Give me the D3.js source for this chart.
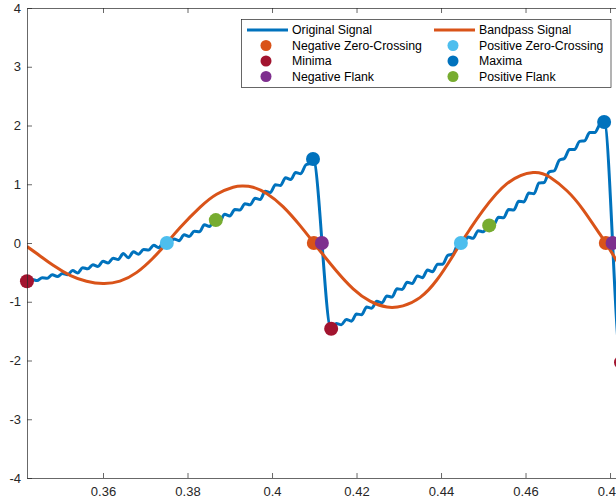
<!DOCTYPE html>
<html>
<head>
<meta charset="utf-8">
<script src="https://cdn.jsdelivr.net/npm/d3@7"></script>
<style>
  body { margin: 0; background: #fff; }
  svg { display: block; font-family: "Liberation Sans", Arial, Helvetica, sans-serif; }
</style>
</head>
<body>
<script>
// ---- data ----
var origX = [0.3420, 0.3432, 0.3444, 0.3456, 0.3468, 0.3480, 0.3492, 0.3504, 0.3516, 0.3528,
  0.3540, 0.3552, 0.3564, 0.3576, 0.3588, 0.3600, 0.3612, 0.3624, 0.3636, 0.3648,
  0.3660, 0.3672, 0.3684, 0.3696, 0.3708, 0.3720, 0.3732, 0.3744, 0.3756, 0.3768,
  0.3780, 0.3792, 0.3804, 0.3816, 0.3828, 0.3840, 0.3852, 0.3864, 0.3876, 0.3888,
  0.3900, 0.3912, 0.3924, 0.3936, 0.3948, 0.3960, 0.3972, 0.3984, 0.3996, 0.4008,
  0.4020, 0.4032, 0.4044, 0.4056, 0.4068, 0.4080, 0.4092, 0.4097,
  0.4140, 0.4152, 0.4164, 0.4176, 0.4188, 0.4200, 0.4212, 0.4224, 0.4236, 0.4248,
  0.4260, 0.4272, 0.4284, 0.4296, 0.4308, 0.4320, 0.4332, 0.4344, 0.4356, 0.4368,
  0.4380, 0.4392, 0.4404, 0.4416, 0.4428, 0.4440, 0.4452, 0.4464, 0.4476, 0.4488,
  0.4500, 0.4512, 0.4524, 0.4536, 0.4548, 0.4560, 0.4572, 0.4584, 0.4596, 0.4608,
  0.4620, 0.4632, 0.4644, 0.4656, 0.4668, 0.4680, 0.4692, 0.4704, 0.4716, 0.4728,
  0.4740, 0.4752, 0.4764, 0.4776, 0.4786,
  0.4826, 0.4838, 0.4850];
var origY = [-0.65, -0.62, -0.64, -0.59, -0.60, -0.54, -0.57, -0.52, -0.54, -0.47,
  -0.51, -0.42, -0.44, -0.37, -0.40, -0.31, -0.34, -0.26, -0.28, -0.18,
  -0.25, -0.15, -0.19, -0.11, -0.12, -0.04, -0.08, 0.02, -0.01, 0.07,
  0.04, 0.14, 0.11, 0.20, 0.19, 0.31, 0.28, 0.395, 0.37, 0.49,
  0.46, 0.57, 0.56, 0.67, 0.65, 0.76, 0.74, 0.88, 0.86, 0.99,
  0.98, 1.11, 1.08, 1.20, 1.18, 1.33, 1.36, 1.43,
  -1.46, -1.37, -1.39, -1.30, -1.33, -1.21, -1.22, -1.09, -1.11, -0.99,
  -1.02, -0.90, -0.92, -0.78, -0.79, -0.67, -0.69, -0.56, -0.59, -0.46,
  -0.49, -0.36, -0.36, -0.21, -0.19, -0.03, -0.02, 0.10, 0.08, 0.21,
  0.19, 0.31, 0.30, 0.44, 0.43, 0.57, 0.56, 0.71, 0.70, 0.85,
  0.84, 1.02, 1.03, 1.21, 1.23, 1.41, 1.44, 1.59, 1.59, 1.73,
  1.74, 1.88, 1.88, 2.02, 2.06,
  -2.03, -1.97, -1.98];

var bandX = [0.3420, 0.3451, 0.3482, 0.3522, 0.3561, 0.3600, 0.3640, 0.3680, 0.3718, 0.3751,
  0.3782, 0.3830, 0.3869, 0.3908, 0.3931, 0.3955, 0.3988, 0.4026, 0.4066, 0.4099,
  0.4121, 0.4153, 0.4192, 0.4232, 0.4272, 0.4310, 0.4350, 0.4390, 0.4428, 0.4447,
  0.4469, 0.4499, 0.4556, 0.4618, 0.4658, 0.4698, 0.4736, 0.4776, 0.4790, 0.4814, 0.4836];
var bandY = [-0.06, -0.22, -0.38, -0.55, -0.65, -0.69, -0.65, -0.50, -0.26, 0.00,
  0.26, 0.61, 0.83, 0.95, 0.97, 0.95, 0.84, 0.62, 0.30, 0.00,
  -0.20, -0.48, -0.78, -0.99, -1.09, -1.07, -0.93, -0.63, -0.22, 0.00,
  0.24, 0.55, 1.01, 1.20, 1.12, 0.89, 0.57, 0.15, 0.00, -0.28, -0.53];

var negZeroX = [0.4099, 0.4790], negZeroY = [0, 0];
var posZeroX = [0.3751, 0.4447], posZeroY = [0, 0];
var minimaX = [0.3420, 0.4140, 0.4826], minimaY = [-0.65, -1.46, -2.03];
var maximaX = [0.4097, 0.4786], maximaY = [1.43, 2.06];
var negFlankX = [0.4118, 0.4806], negFlankY = [0, 0];
var posFlankX = [0.3867, 0.4514], posFlankY = [0.39, 0.30];

var xTicks = [0.36, 0.38, 0.40, 0.42, 0.44, 0.46, 0.48];
var xTickLabels = ["0.36", "0.38", "0.4", "0.42", "0.44", "0.46", "0.48"];
var yTicks = [-4, -3, -2, -1, 0, 1, 2, 3, 4];
var yTickLabels = ["-4", "-3", "-2", "-1", "0", "1", "2", "3", "4"];

// ---- layout ----
var width = 616, height = 501;
var plotL = 27, plotR = 626, plotT = 8, plotB = 478;
var axisColor = "#262626";

var svg = d3.select("body").append("svg").attr("width", width).attr("height", height);

var x = d3.scaleLinear().domain([0.34201, 0.48378]).range([plotL, plotR]);
var y = d3.scaleLinear().domain([-4, 4]).range([plotB, plotT]);

svg.append("defs").append("clipPath").attr("id", "plotclip")
  .append("rect").attr("x", plotL).attr("y", plotT).attr("width", plotR - plotL).attr("height", plotB - plotT);

function zip(xs, ys) { return xs.map(function (v, i) { return [v, ys[i]]; }); }

var plot = svg.append("g");

// signals
var lineOrig = d3.line().x(d => x(d[0])).y(d => y(d[1])).curve(d3.curveMonotoneX);
var lineBand = d3.line().x(d => x(d[0])).y(d => y(d[1])).curve(d3.curveNatural);

plot.append("path").datum(zip(origX, origY))
  .attr("clip-path", "url(#plotclip)")
  .attr("fill", "none").attr("stroke", "#0072BD").attr("stroke-width", 3)
  .attr("stroke-linejoin", "round")
  .attr("d", lineOrig);

plot.append("path").datum(zip(bandX, bandY))
  .attr("clip-path", "url(#plotclip)")
  .attr("fill", "none").attr("stroke", "#D95319").attr("stroke-width", 3)
  .attr("d", lineBand);

// markers
var markerSets = [
  { xs: negZeroX, ys: negZeroY, color: "#D95319" },
  { xs: posZeroX, ys: posZeroY, color: "#4DBEEE" },
  { xs: minimaX, ys: minimaY, color: "#A2142F" },
  { xs: maximaX, ys: maximaY, color: "#0072BD" },
  { xs: negFlankX, ys: negFlankY, color: "#7E2F8E" },
  { xs: posFlankX, ys: posFlankY, color: "#77AC30" }
];
markerSets.forEach(function (s) {
  plot.append("g").selectAll("circle")
    .data(zip(s.xs, s.ys)).enter()
    .append("circle")
    .attr("cx", d => x(d[0]))
    .attr("cy", d => y(d[1]))
    .attr("r", 7)
    .attr("fill", s.color);
});

// axes
function styleAxis(g) {
  g.attr("font-family", null);
  g.selectAll("path.domain").attr("stroke", axisColor).attr("stroke-width", 0.7);
  g.selectAll(".tick line").attr("stroke", axisColor).attr("stroke-width", 0.7);
  g.selectAll(".tick text").attr("fill", axisColor).style("font-size", "13px");
}

svg.append("g").attr("transform", "translate(0," + plotB + ")")
  .call(d3.axisBottom(x).tickValues(xTicks).tickFormat((d, i) => xTickLabels[i])
    .tickSizeInner(-5).tickSizeOuter(0).tickPadding(9))
  .call(styleAxis);

svg.append("g").attr("transform", "translate(0," + plotT + ")")
  .call(d3.axisTop(x).tickValues(xTicks).tickFormat("")
    .tickSizeInner(-5).tickSizeOuter(0))
  .call(styleAxis);

svg.append("g").attr("transform", "translate(" + plotL + ",0)")
  .call(d3.axisLeft(y).tickValues(yTicks).tickFormat((d, i) => yTickLabels[i])
    .tickSizeInner(-5).tickSizeOuter(0).tickPadding(6))
  .call(styleAxis);

// legend
var legendItems = [
  { label: "Original Signal", color: "#0072BD", kind: "line", col: 0, row: 0 },
  { label: "Bandpass Signal", color: "#D95319", kind: "line", col: 1, row: 0 },
  { label: "Negative Zero-Crossing", color: "#D95319", kind: "dot", col: 0, row: 1 },
  { label: "Positive Zero-Crossing", color: "#4DBEEE", kind: "dot", col: 1, row: 1 },
  { label: "Minima", color: "#A2142F", kind: "dot", col: 0, row: 2 },
  { label: "Maxima", color: "#0072BD", kind: "dot", col: 1, row: 2 },
  { label: "Negative Flank", color: "#7E2F8E", kind: "dot", col: 0, row: 3 },
  { label: "Positive Flank", color: "#77AC30", kind: "dot", col: 1, row: 3 }
];
var legend = svg.append("g");
legend.append("rect")
  .attr("x", 241.5).attr("y", 19.5).attr("width", 369.5).attr("height", 68)
  .attr("fill", "#fff").attr("stroke", axisColor).attr("stroke-width", 0.7);

var colX = [247, 434];
var rowY = [30, 45.5, 61, 76.5];
legendItems.forEach(function (it) {
  var x0 = colX[it.col], yy = rowY[it.row];
  if (it.kind === "line") {
    legend.append("line").attr("x1", x0).attr("x2", x0 + 41).attr("y1", yy).attr("y2", yy)
      .attr("stroke", it.color).attr("stroke-width", 3);
  } else {
    legend.append("circle").attr("cx", x0 + 19).attr("cy", yy).attr("r", 5.5).attr("fill", it.color);
  }
  legend.append("text").attr("x", x0 + 45).attr("y", yy).attr("dy", "0.35em")
    .attr("fill", "#000").style("font-size", "12.3px").text(it.label);
});
</script>
</body>
</html>
